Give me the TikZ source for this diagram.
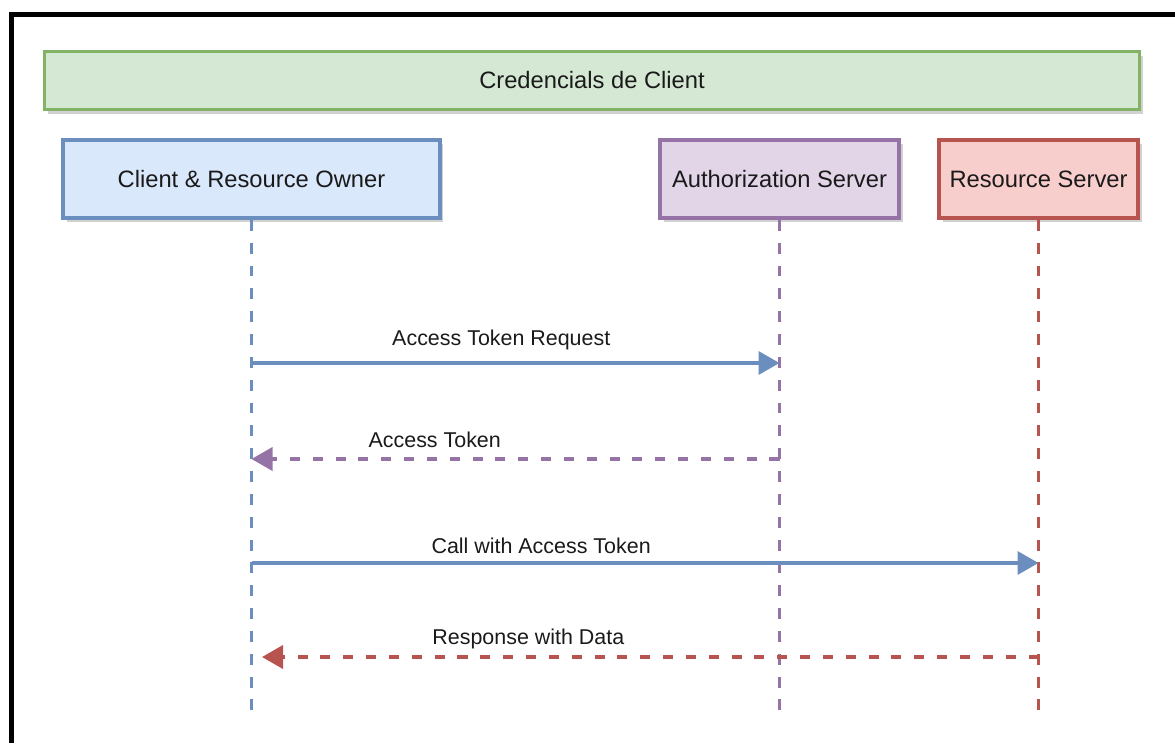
\documentclass[tikz,border=0pt]{standalone}
\usepackage{fontspec}
\setmainfont{Liberation Sans}
\usetikzlibrary{arrows.meta,shadows}

\definecolor{blueFill}{HTML}{DAE8FC}
\definecolor{blueLine}{HTML}{6C8EBF}
\definecolor{purpleFill}{HTML}{E1D5E7}
\definecolor{purpleLine}{HTML}{9673A6}
\definecolor{redFill}{HTML}{F8CECC}
\definecolor{redLine}{HTML}{B85450}
\definecolor{greenFill}{HTML}{D5E8D4}
\definecolor{greenLine}{HTML}{82B366}
\definecolor{txt}{HTML}{1A1A1A}

\begin{document}
\begin{tikzpicture}[x=0.02cm,y=-0.02cm]
\tikzstyle{every node}+=[text=txt]
\tikzstyle{actor}=[draw, line width=2.1pt, minimum height=1.56cm, inner sep=0pt,
  font=\fontsize{13.5}{16}\selectfont,
  drop shadow={shadow xshift=2pt, shadow yshift=-2.5pt, fill=black, opacity=0.18}]
\tikzstyle{life}=[line width=2.2pt, dash pattern=on 6.2pt off 6.8pt]
\tikzstyle{msg}=[line width=2.1pt, -{Triangle[length=0.42cm, width=0.46cm]}]
\tikzstyle{reply}=[msg, dash pattern=on 5.7pt off 7.3pt]
\tikzstyle{lbl}=[font=\fontsize{12.2}{14}\selectfont, inner sep=0pt]
\useasboundingbox (0,0) rectangle (1175,743);
\draw [black, line width=2.4pt] (11.5,743) -- (11.5,14.5) -- (1175,14.5);
\node [actor, draw=greenLine, fill=greenFill, minimum width=21.9cm, minimum height=1.16cm] (title) at (592,80.5) {Credencials de Client};
\node [actor, draw=blueLine, fill=blueFill, minimum width=7.54cm] (client) at (251.5,179) {Client \& Resource Owner};
\node [actor, draw=purpleLine, fill=purpleFill, minimum width=4.78cm] (auth) at (779.5,179) {Authorization Server};
\node [actor, draw=redLine, fill=redFill, minimum width=3.98cm] (res) at (1038.5,179) {Resource Server};
\coordinate (clientEnd) at (251.5,710);
\coordinate (authEnd) at (779.5,710);
\coordinate (resEnd) at (1038.5,710);
\draw [life, blueLine] (client.south) -- (clientEnd);
\draw [life, purpleLine] (auth.south) -- (authEnd);
\draw [life, redLine] (res.south) -- (resEnd);
\coordinate (c1) at (251.5,363);
\coordinate (a1) at (779.5,363);
\coordinate (c2) at (251.5,459);
\coordinate (a2) at (779.5,459);
\coordinate (c3) at (251.5,563);
\coordinate (r3) at (1038.5,563);
\coordinate (c4) at (262,657);
\coordinate (r4) at (1038.5,657);
\draw [msg, blueLine] (c1) -- (a1) node [lbl, pos=0.473, yshift=0.46cm] (l1) {Access Token Request};
\draw [reply, purpleLine] (a2) -- (c2) node [lbl, pos=0.653, yshift=0.38cm] (l2) {Access Token};
\draw [msg, blueLine] (c3) -- (r3) node [lbl, pos=0.368, yshift=0.34cm] (l3) {Call with Access Token};
\draw [reply, redLine] (r4) -- (c4) node [lbl, pos=0.657, yshift=0.36cm] (l4) {Response with Data};
\end{tikzpicture}
\end{document}
